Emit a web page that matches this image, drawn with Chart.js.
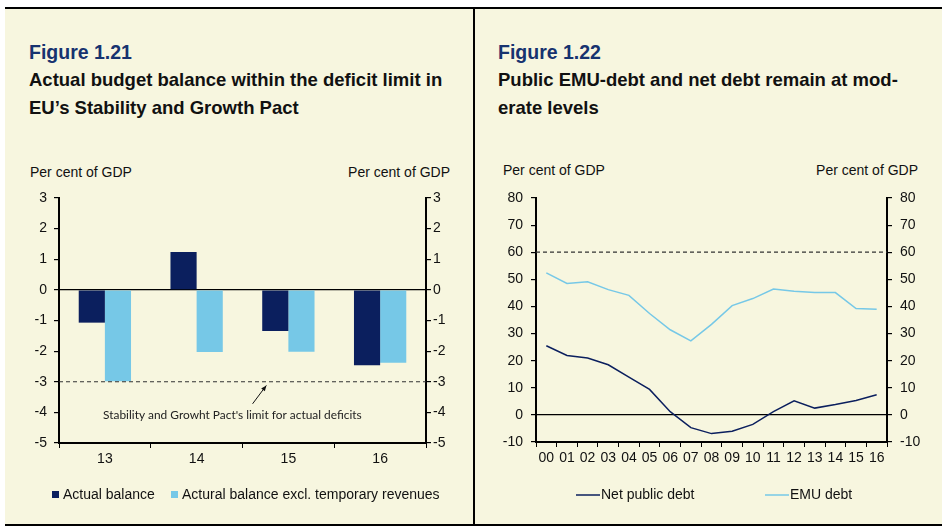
<!DOCTYPE html>
<html>
<head>
<meta charset="utf-8">
<script src="https://cdn.jsdelivr.net/npm/chart.js@4.4.1/dist/chart.umd.min.js"></script>
<style>
  body { margin: 0; background: #fff; width: 942px; height: 529px; overflow: hidden;
         font-family: "Liberation Sans", Arial, sans-serif; }
  #frame { position: absolute; left: 5px; top: 7px; width: 937px; height: 515px; background: #f7f6df;
           border-top: 2px solid #000; border-bottom: 2px solid #000; }
  #divider { position: absolute; left: 473px; top: 7px; width: 2px; height: 517px; background: #000; }
  .fig { position: absolute; font-weight: bold; font-size: 19.5px; color: #17336f; white-space: nowrap; }
  .sub { position: absolute; font-weight: bold; font-size: 18.5px; line-height: 28px; color: #111; white-space: nowrap; }
  .unit { position: absolute; font-size: 14px; line-height: 16px; color: #111; white-space: nowrap; }
  .box { position: absolute; }
</style>
</head>
<body>
<div id="frame"></div>
<div id="divider"></div>

<div class="fig" style="left:29px; top:41px;">Figure 1.21</div>
<div class="sub" style="left:29px; top:66px;">Actual budget balance within the deficit limit in<br>EU’s Stability and Growth Pact</div>
<div class="fig" style="left:498px; top:41px;">Figure 1.22</div>
<div class="sub" style="left:498px; top:66px;">Public EMU-debt and net debt remain at mod-<br>erate levels</div>

<div class="unit" style="left:30px; top:164px;">Per cent of GDP</div>
<div class="unit" style="right:492px; top:164px;">Per cent of GDP</div>
<div class="unit" style="left:503px; top:162px;">Per cent of GDP</div>
<div class="unit" style="right:24px; top:162px;">Per cent of GDP</div>

<div class="box" style="left:5px; top:150px; width:480px; height:370px;"><canvas id="balance"></canvas></div>
<div class="box" style="left:487px; top:150px; width:454px; height:370px;"><canvas id="debt"></canvas></div>

<script>
// Figure 1.21 – budget balance, per cent of GDP
const balanceYears = ['13', '14', '15', '16'];
const actualBalance = [-1.07, 1.24, -1.34, -2.46];
const balanceExclTemp = [-2.98, -2.03, -2.02, -2.38];
const deficitLimit = -3;
const limitNote = "Stability and Growht Pact's limit for actual deficits";

// Figure 1.22 – debt, per cent of GDP
const debtYears = ['00', '01', '02', '03', '04', '05', '06', '07', '08', '09',
                   '10', '11', '12', '13', '14', '15', '16'];
const netPublicDebt = [25.5, 21.9, 21.0, 18.5, 13.9, 9.4, 1.2, -4.7, -6.9, -6.0,
                       -3.5, 1.2, 5.2, 2.5, 3.8, 5.3, 7.4];
const emuDebt = [52.4, 48.5, 49.1, 46.2, 44.1, 37.4, 31.4, 27.3, 33.4, 40.3,
                 42.9, 46.4, 45.6, 45.1, 45.1, 39.2, 39.0];
const debtLimit = 60;

const DARK = '#0b1f5e';
const LIGHT = '#76c8e7';
const FONT = '"Liberation Sans", Arial, sans-serif';

Chart.defaults.font.family = FONT;
Chart.defaults.font.size = 14;
Chart.defaults.color = '#111';
Chart.defaults.animation = false;
Chart.defaults.maintainAspectRatio = false;

// dashed horizontal reference line at options.plugins.refLine.value
const refLine = {
  id: 'refLine',
  afterDatasetsDraw(chart, args, opts) {
    const { ctx, chartArea, scales } = chart;
    const y = scales.y.getPixelForValue(opts.value);
    ctx.save();
    ctx.strokeStyle = '#333';
    ctx.lineWidth = 1.2;
    ctx.setLineDash([4, 3]);
    ctx.beginPath();
    ctx.moveTo(chartArea.left, y);
    ctx.lineTo(chartArea.right, y);
    ctx.stroke();
    ctx.restore();
  }
};

// note with arrow pointing at the deficit limit
const limitLabel = {
  id: 'limitLabel',
  afterDatasetsDraw(chart) {
    const { ctx, scales } = chart;
    const x = scales.x, y = scales.y;
    ctx.save();
    ctx.font = '11.9px Lato, "Open Sans", sans-serif';
    ctx.fillStyle = '#222';
    ctx.textAlign = 'center';
    ctx.textBaseline = 'middle';
    ctx.fillText(limitNote, x.getPixelForValue(1.39), y.getPixelForValue(-4.08));

    const x0 = x.getPixelForValue(1.61), y0 = y.getPixelForValue(-3.72);
    const x1 = x.getPixelForValue(1.76), y1 = y.getPixelForValue(-3.12);
    const a = Math.atan2(y1 - y0, x1 - x0);
    ctx.strokeStyle = '#111';
    ctx.fillStyle = '#111';
    ctx.lineWidth = 1;
    ctx.beginPath();
    ctx.moveTo(x0, y0);
    ctx.lineTo(x1, y1);
    ctx.stroke();
    ctx.beginPath();
    ctx.moveTo(x1, y1);
    ctx.lineTo(x1 - 6 * Math.cos(a - 0.4), y1 - 6 * Math.sin(a - 0.4));
    ctx.lineTo(x1 - 6 * Math.cos(a + 0.4), y1 - 6 * Math.sin(a + 0.4));
    ctx.closePath();
    ctx.fill();
    ctx.restore();
  }
};

// legend row under the axis: one swatch + label per dataset at fixed x offsets
const seriesKey = {
  id: 'seriesKey',
  afterDraw(chart, args, opts) {
    const { ctx } = chart;
    ctx.save();
    ctx.font = '14px ' + FONT;
    ctx.textBaseline = 'middle';
    chart.data.datasets.forEach((ds, i) => {
      const x = opts.x[i], y = opts.y;
      if (opts.swatch === 'box') {
        ctx.fillStyle = ds.backgroundColor;
        ctx.fillRect(x, y - 4, opts.swatchWidth, opts.swatchWidth);
      } else {
        ctx.strokeStyle = ds.borderColor;
        ctx.lineWidth = ds.borderWidth;
        ctx.beginPath();
        ctx.moveTo(x, y);
        ctx.lineTo(x + opts.swatchWidth, y);
        ctx.stroke();
      }
      ctx.fillStyle = '#111';
      ctx.fillText(ds.label, x + opts.swatchWidth + opts.gap, y);
    });
    ctx.restore();
  }
};

function yAxis(position, min, max, step, width, pad, zeroLine) {
  return {
    position, min, max,
    ticks: { stepSize: step, padding: pad },
    grid: {
      drawOnChartArea: zeroLine,
      color: c => (c.tick && c.tick.value === 0) ? '#000' : 'rgba(0,0,0,0)',
      lineWidth: 1.2,
      tickColor: '#000',
      tickLength: 5
    },
    border: { color: '#000', width: 2 },
    afterFit: s => { s.width = width; }
  };
}

function xAxis(height) {
  return {
    offset: true,
    grid: { offset: true, drawOnChartArea: false, tickColor: '#000', tickLength: 5 },
    border: { color: '#000', width: 2 },
    ticks: { padding: 3, maxRotation: 0, autoSkip: false },
    afterFit: s => { s.height = height; }
  };
}

new Chart(document.getElementById('balance'), {
  type: 'bar',
  data: {
    labels: balanceYears,
    datasets: [
      { label: 'Actual balance', data: actualBalance, backgroundColor: DARK,
        categoryPercentage: 0.57, barPercentage: 1 },
      { label: 'Actural balance excl. temporary revenues', data: balanceExclTemp, backgroundColor: LIGHT,
        categoryPercentage: 0.57, barPercentage: 1 }
    ]
  },
  options: {
    layout: { padding: { top: 48, left: 0, right: 0, bottom: 47 } },
    scales: {
      x: xAxis(30),
      y: yAxis('left', -5, 3, 1, 54, 7, true),
      y2: yAxis('right', -5, 3, 1, 59, 2, false)
    },
    plugins: {
      legend: { display: false },
      tooltip: { enabled: false },
      refLine: { value: deficitLimit },
      seriesKey: { x: [47, 166], y: 345, swatch: 'box', swatchWidth: 7, gap: 4 }
    }
  },
  plugins: [refLine, limitLabel, seriesKey]
});

new Chart(document.getElementById('debt'), {
  type: 'line',
  data: {
    labels: debtYears,
    datasets: [
      { label: 'Net public debt', data: netPublicDebt, borderColor: DARK, backgroundColor: DARK,
        borderWidth: 1.5, pointRadius: 0, tension: 0 },
      { label: 'EMU debt', data: emuDebt, borderColor: LIGHT, backgroundColor: LIGHT,
        borderWidth: 1.5, pointRadius: 0, tension: 0 }
    ]
  },
  options: {
    layout: { padding: { top: 48, left: 0, right: 0, bottom: 48 } },
    scales: {
      x: xAxis(30),
      y: yAxis('left', -10, 80, 10, 49, 8, true),
      y2: yAxis('right', -10, 80, 10, 54, 8, false)
    },
    plugins: {
      legend: { display: false },
      tooltip: { enabled: false },
      refLine: { value: debtLimit },
      seriesKey: { x: [89, 278], y: 345, swatch: 'line', swatchWidth: 24, gap: 1 }
    }
  },
  plugins: [refLine, seriesKey]
});
</script>
</body>
</html>
